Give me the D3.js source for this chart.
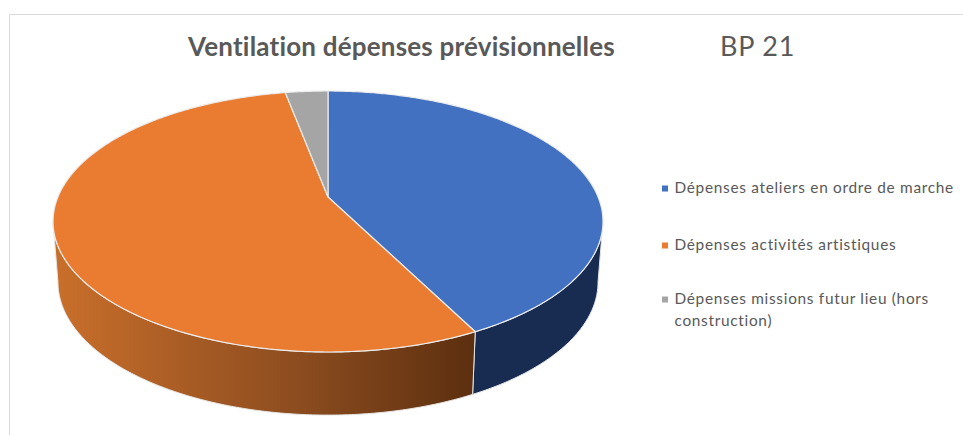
<!DOCTYPE html>
<html>
<head>
<meta charset="utf-8">
<script src="https://cdn.jsdelivr.net/npm/d3@7"></script>
<style>
html,body{margin:0;padding:0;background:#fff;overflow:hidden}
text{font-family:Lato,sans-serif}
</style>
</head>
<body>
<div id="chart"></div>
<script>
var width = 963, height = 435

var categories = ["Dépenses ateliers en ordre de marche","Dépenses activités artistiques","Dépenses missions futur lieu (hors construction)"]
var values = [42.5,54.5,3]
var topColors = ["#4371c1","#ea7c31","#a5a5a5"]
var wallColors = ["#182b50","#8a4a1e","#63636a"]
var title = "Ventilation dépenses prévisionnelles"
var subtitle = "BP 21"

var svg = d3.select("#chart").append("svg")
    .attr("width", width)
    .attr("height", height)

//chart frame, open on the bottom and right like the screenshot
svg.append("path")
    .attr("d", "M9.5,435V14.5H963")
    .attr("fill", "none")
    .attr("stroke", "#d9d9d9")
    .attr("stroke-width", 1)

var defs = svg.append("defs")
var orangeGrad = defs.append("linearGradient")
    .attr("id", "orangeWall")
    .attr("gradientUnits", "userSpaceOnUse")
    .attr("x1", 55).attr("x2", 475).attr("y1", 0).attr("y2", 0)
orangeGrad.append("stop").attr("offset", "0%").attr("stop-color", "#c96f2b")
orangeGrad.append("stop").attr("offset", "58%").attr("stop-color", "#8c4c1f")
orangeGrad.append("stop").attr("offset", "100%").attr("stop-color", "#5c2f0f")

//perspective of the disc
var cx = 328, cy = 197
var persp = 0.1877, radX = 270.1, radY = 125.9
var depth = 60

//angle -> screen, level 0 = top face, level 1 = bottom of the wall
function project(a, level){
    var u = Math.sin(a), v = -Math.cos(a)
    var w = 1 - persp*v
    var sx = level ? 0.982 : 1
    var sy = level ? 1.02 : 1
    return [cx + sx*radX*u/w, cy + (level ? depth : 0) + sy*radY*v/w]
}

function arcPoints(a0, a1, level){
    var n = Math.max(2, Math.ceil(Math.abs(a1 - a0)/0.01))
    return d3.range(n + 1).map(function(i){
        return project(a0 + (a1 - a0)*i/n, level)
    })
}

var line = d3.line()
var pie = d3.pie().sort(null)
var slices = pie(values)

//the wall is only seen between the two side extremes of the disc
var sideAngle = Math.acos(-persp)
var frontStart = sideAngle, frontEnd = 2*Math.PI - sideAngle

var walls = svg.append("g")
slices.forEach(function(d, i){
    var a0 = Math.max(d.startAngle, frontStart)
    var a1 = Math.min(d.endAngle, frontEnd)
    if(a1 <= a0) return
    var pts = arcPoints(a0, a1, 0).concat(arcPoints(a1, a0, 1))
    walls.append("path")
        .attr("d", line(pts) + "Z")
        .attr("fill", i == 1 ? "url(#orangeWall)" : wallColors[i])
        .attr("stroke", "#e6e6e6")
        .attr("stroke-width", 1)
})

var faces = svg.append("g")
slices.forEach(function(d, i){
    var pts = [[cx, cy]].concat(arcPoints(d.startAngle, d.endAngle, 0))
    faces.append("path")
        .attr("d", line(pts) + "Z")
        .attr("fill", topColors[i])
        .attr("stroke", "#ececec")
        .attr("stroke-width", 1.2)
        .attr("stroke-linejoin", "round")
})

//title
svg.append("text")
    .attr("x", 188).attr("y", 56)
    .attr("font-size", 26)
    .attr("font-weight", 700)
    .attr("letter-spacing", 0.2)
    .attr("fill", "#595959")
    .text(title)
svg.append("text")
    .attr("x", 720).attr("y", 56)
    .attr("font-size", 27)
    .attr("letter-spacing", 0.8)
    .attr("fill", "#595959")
    .text(subtitle)

//legend
var legendRows = [
    {i:0, y:193, lines:["Dépenses ateliers en ordre de marche"]},
    {i:1, y:250, lines:["Dépenses activités artistiques"]},
    {i:2, y:304, lines:["Dépenses missions futur lieu (hors","construction)"]}
]
var legend = svg.append("g")
legendRows.forEach(function(row){
    legend.append("rect")
        .attr("x", 662).attr("y", row.y - 7.5)
        .attr("width", 6).attr("height", 6)
        .attr("fill", topColors[row.i])
    row.lines.forEach(function(t, j){
        legend.append("text")
            .attr("x", 674.5).attr("y", row.y + j*22)
            .attr("font-size", 15.4)
            .attr("letter-spacing", 0.7)
            .attr("fill", "#595959")
            .text(t)
    })
})
</script>
</body>
</html>
